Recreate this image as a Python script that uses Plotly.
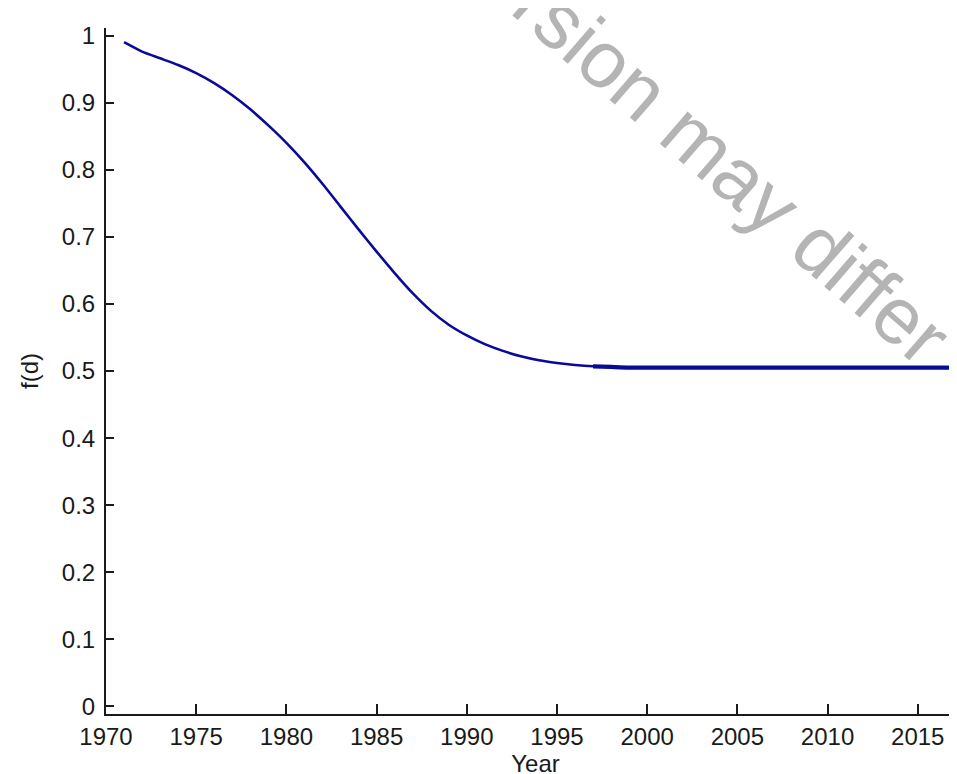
import plotly.graph_objects as go

years = [1971, 1972, 1973, 1974, 1975, 1976, 1977, 1978, 1979, 1980,
         1981, 1982, 1983, 1984, 1985, 1986, 1987, 1988, 1989, 1990,
         1991, 1992, 1993, 1994, 1995, 1996, 1997, 1998, 1999, 2000,
         2003, 2006, 2009, 2012, 2015, 2017]
fd = [0.990, 0.976, 0.966, 0.956, 0.944, 0.929, 0.911, 0.890, 0.866, 0.840,
      0.811, 0.779, 0.745, 0.711, 0.678, 0.646, 0.616, 0.590, 0.569, 0.553,
      0.540, 0.530, 0.522, 0.516, 0.512, 0.509, 0.507, 0.506, 0.505, 0.505,
      0.505, 0.505, 0.505, 0.505, 0.505, 0.505]

x_ticks = [1970, 1975, 1980, 1985, 1990, 1995, 2000, 2005, 2010, 2015]
y_ticks = [0, 0.1, 0.2, 0.3, 0.4, 0.5, 0.6, 0.7, 0.8, 0.9, 1]
y_tick_text = ["0", "0.1", "0.2", "0.3", "0.4", "0.5", "0.6", "0.7", "0.8", "0.9", "1"]

FONT = "Liberation Sans, Arial, sans-serif"
LINE = "#0a0a98"

# index where the curve flattens (drawn slightly heavier, as in the original)
flat_start = years.index(1997)

fig = go.Figure()
fig.add_trace(go.Scatter(
    x=years, y=fd, mode="lines",
    line=dict(color=LINE, width=2.6, shape="spline", smoothing=0.6),
    showlegend=False, hoverinfo="skip",
))
fig.add_trace(go.Scatter(
    x=years[flat_start:], y=fd[flat_start:], mode="lines",
    line=dict(color=LINE, width=4.2, shape="spline", smoothing=0.6),
    showlegend=False, hoverinfo="skip",
))

fig.update_layout(
    width=957, height=774,
    margin=dict(l=98, r=0, t=20, b=68),
    paper_bgcolor="white", plot_bgcolor="white",
    font=dict(family=FONT, size=24, color="#1a1a1a"),
    xaxis=dict(
        range=[1970, 2017.62], tickvals=x_ticks, ticktext=[str(v) for v in x_ticks],
        showline=True, linecolor="#1a1a1a", linewidth=2,
        ticks="inside", ticklen=10, tickwidth=2, tickcolor="#1a1a1a",
        showgrid=False, zeroline=False,
        title=dict(text="Year", standoff=0, font=dict(size=24)),
    ),
    yaxis=dict(
        range=[-0.0112, 1.0112], tickvals=y_ticks, ticktext=y_tick_text,
        showline=True, linecolor="#1a1a1a", linewidth=2,
        ticks="inside", ticklen=8, tickwidth=2, tickcolor="#1a1a1a",
        showgrid=False, zeroline=False, ticklabelstandoff=4,
        title=dict(text="f(d)", standoff=16, font=dict(size=24)),
    ),
)

fig.add_annotation(
    text="Version may differ", xref="paper", yref="paper",
    x=0.688, y=0.837, xanchor="center", yanchor="middle",
    textangle=41, showarrow=False,
    font=dict(family=FONT, size=80, color="#b4b4b4"),
)

fig.write_html("out.html")
